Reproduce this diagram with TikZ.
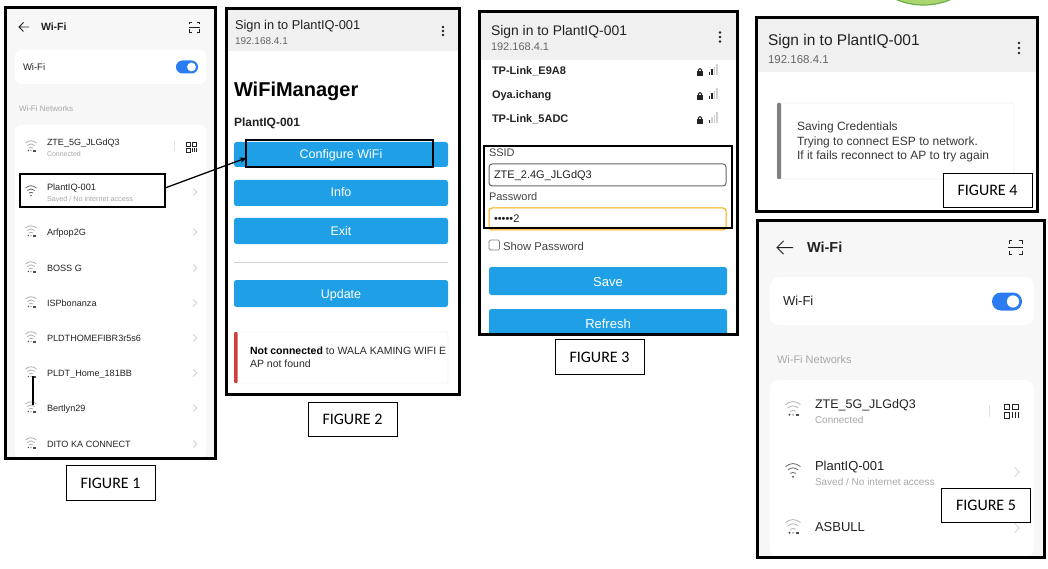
\documentclass[tikz,border=0pt]{standalone}
\usepackage{fontspec}
\setmainfont{Liberation Sans}
\newfontfamily\figfont{Carlito}
\usetikzlibrary{arrows.meta}
\definecolor{btn}{HTML}{1FA0E6}
\definecolor{tog}{HTML}{2A7CF0}
\definecolor{pagebg}{HTML}{F7F7F7}
\definecolor{hdr}{HTML}{F0F0F0}
\definecolor{ink}{HTML}{222222}
\definecolor{sub}{HTML}{666666}
\definecolor{faint}{HTML}{A8A8A8}
\definecolor{icon}{HTML}{666666}
\definecolor{leaf}{HTML}{A9D66F}
\definecolor{leafedge}{HTML}{6DAE4A}
\definecolor{alertred}{HTML}{CE4040}
\newcount\txtno
% \tx[opts]{x}{y-centre}{size}{colour}{text}
\newcommand{\tx}[6][]{%
  \global\advance\txtno by 1
  \pgfmathsetmacro{\tyb}{#3+0.36*#4}%
  \pgfmathsetmacro{\tls}{#4*1.2}%
  \node[lbl,text=#5,#1] (t\the\txtno) at (#2,\tyb) {\fontsize{#4}{\tls}\selectfont #6};}
\newcommand{\panel}[4]{\draw[panelframe] (#1,#2) rectangle (#3,#4);}
\newcommand{\wifi}[4]{% x y scale colour
  \begin{scope}[shift={(#1,#2)},scale=#3]
    \draw[wfline,#4] (-5.5,-4) .. controls (-2,-7) and (2,-7) .. (5.5,-4);
    \draw[wfline,#4] (-3.8,-1.5) .. controls (-1.5,-3.6) and (1.5,-3.6) .. (3.8,-1.5);
    \draw[wfline,#4] (-2.1,1) .. controls (-1,0.1) and (1,0.1) .. (2.1,1);
    \fill[#4] (0,3.5) circle (0.9);
  \end{scope}}
\newcommand{\wifilock}[3]{%
  \wifi{#1}{#2}{#3}{black!30}
  \begin{scope}[shift={(#1,#2)},scale=#3]
    \fill[ink!80] (-2.6,3.5) circle (0.8);
    \fill[ink!80] (2,2.6) rectangle (4.6,4.8);
  \end{scope}}
\newcommand{\chev}[3]{\begin{scope}[shift={(#1,#2)},scale=#3]\draw[chevline] (-2,-4) -- (2,0) -- (-2,4);\end{scope}}
\newcommand{\qr}[3]{\begin{scope}[shift={(#1,#2)},scale=#3]
  \draw[qrline] (0,0) rectangle (4.5,4.5) (6.5,0) rectangle (11,4.5) (0,6.5) rectangle (4.5,11);
  \draw[qrline] (6.5,6.5) -- (6.5,11) (8.7,6.5) -- (8.7,11) (11,6.5) -- (11,11);
\end{scope}}
\newcommand{\scanicon}[3]{\begin{scope}[shift={(#1,#2)},scale=#3]
  \draw[qrline] (0,2.5) -- (0,0) -- (2.5,0) (7.5,0) -- (10,0) -- (10,2.5)
    (0,7.5) -- (0,10) -- (2.5,10) (7.5,10) -- (10,10) -- (10,7.5);
  \draw[qrline,line width=0.6pt] (-0.5,5) -- (10.5,5);
\end{scope}}
\newcommand{\toggle}[4]{% x0 x1 y h
  \fill[tog,rounded corners=#4*0.49pt] (#1,#3-#4/2) rectangle (#2,#3+#4/2);
  \fill[white] (#2-#4/2,#3) circle (#4*0.34);}
\newcommand{\kebab}[3]{\foreach \d in {-1,0,1}{\fill[ink] (#1,#2+\d*#3) circle (1.35);}}
\newcommand{\lockic}[2]{\fill[ink] (#1-3,#2-0.6) rectangle (#1+3,#2+3.6);
  \draw[ink,line width=1pt] (#1-1.7,#2-0.6) -- (#1-1.7,#2-2) .. controls (#1-1.7,#2-3.8) and (#1+1.7,#2-3.8) .. (#1+1.7,#2-2) -- (#1+1.7,#2-0.6);}
\newcommand{\bars}[3]{% x y dark-count
  \foreach \i/\h in {0/3,1/5.5,2/8,3/11}{
    \pgfmathsetmacro{\cc}{\i<#3 ? 1 : 0}
    \ifdim\cc pt>0.5pt \fill[ink] (#1+\i*2.6,#2) rectangle (#1+\i*2.6+1.7,#2-\h);
    \else \fill[black!18] (#1+\i*2.6,#2) rectangle (#1+\i*2.6+1.7,#2-\h);\fi}}
\tikzset{
  lbl/.style={anchor=base west,inner sep=0pt,outer sep=0pt},
  ctr/.style={anchor=base,inner sep=0pt,outer sep=0pt},
  panelframe/.style={draw=black,line width=3pt},
  wfline/.style={line width=0.8pt},
  chevline/.style={draw=black!18,line width=0.8pt},
  qrline/.style={draw=ink,line width=0.9pt},
  callout/.style={draw=black,line width=2pt,inner sep=0pt,outer sep=0pt},
  figbox/.style={draw=black,line width=1pt,fill=white,minimum width=89pt,minimum height=34.5pt,inner sep=0pt,font=\figfont\fontsize{16}{19}\selectfont},
  btnbox/.style={fill=btn,rounded corners=2.5pt},
  card/.style={fill=white,rounded corners=6pt},
  link/.style={draw=black,line width=1.3pt,-{Stealth[length=6pt,width=5.5pt]}}
}
\begin{document}
\begin{tikzpicture}[x=1pt,y=-1pt]
\useasboundingbox (0,0) rectangle (1048,569);
\fill[white] (0,0) rectangle (1048,569);
% green shape cut by the top edge
\begin{scope}
  \clip (0,0) rectangle (1048,569);
  \draw[fill=leaf,draw=leafedge,line width=1.2pt] (923.5,-65) circle (70);
\end{scope}
% ---------- Panel 1
\fill[pagebg] (5,8) rectangle (215,458);
\fill[card] (15,50) rectangle (206,84);
\fill[card] (15,125) rectangle (206,458);
\draw[ink,line width=0.8pt] (29,27) -- (19,27) (23.5,22.5) -- (19,27) -- (23.5,31.5);
\tx{41}{27}{10.5}{ink}{\textbf{Wi-Fi}}
\scanicon{189}{22}{1}
\tx{23}{67}{9.5}{ink}{Wi-Fi}
\toggle{176}{198}{67}{13}
\tx{19}{109}{8}{faint}{Wi-Fi Networks}
\wifilock{31}{147}{1}
\tx{47}{142}{9}{ink}{ZTE\_5G\_JLGdQ3}
\tx{47}{154}{7}{faint}{Connected}
\draw[black!12,line width=0.6pt] (174,141) -- (174,151);
\qr{186}{142}{0.95}
\wifi{31}{192}{1}{icon}
\tx{47}{187}{9.2}{ink}{PlantIQ-001}
\tx{47}{199}{7.2}{faint}{Saved / No internet access}
\chev{195}{192}{0.9}
\foreach \yy/\nm in {232/Arfpop2G,268/BOSS G,303/ISPbonanza,338/PLDTHOMEFIBR3r5s6,373/PLDT\_Home\_181BB,408/Bertlyn29,444/DITO KA CONNECT}{
  \wifilock{31}{\yy}{1}
  \tx{47}{\yy}{9.1}{ink}{\nm}
  \chev{195}{\yy}{0.9}
}
\draw[black,line width=2.6pt] (33,376) -- (33,405);
\panel{5}{8}{215}{458}
\node[callout,minimum width=145pt,minimum height=33pt] (plantrow) at (92.5,191) {};
% ---------- Panel 2
\fill[white] (226,9) rectangle (459,394);
\fill[hdr] (226,9) rectangle (459,51);
\tx{235}{25}{12.8}{ink}{Sign in to PlantIQ-001}
\tx{235}{41}{10}{sub}{192.168.4.1}
\kebab{443}{31}{4}
\tx{234}{89}{20}{black}{\textbf{WiFiManager}}
\tx{234}{122}{12}{ink}{\textbf{PlantIQ-001}}
\fill[btnbox] (234,142) rectangle (448,167);
\node[ctr,text=white,font=\fontsize{12.5}{15}\selectfont] (cfgtxt) at (341,159) {Configure WiFi};
\fill[btnbox] (234,180) rectangle (448,206);
\node[ctr,text=white,font=\fontsize{12.5}{15}\selectfont] (infotxt) at (341,197) {Info};
\fill[btnbox] (234,218) rectangle (448,244);
\node[ctr,text=white,font=\fontsize{12.5}{15}\selectfont] (exittxt) at (341,235) {Exit};
\draw[black!18,line width=1pt] (234,262) -- (448,262);
\fill[btnbox] (234,280) rectangle (448,307);
\node[ctr,text=white,font=\fontsize{12.5}{15}\selectfont] (updtxt) at (341,298) {Update};
\draw[black!5,line width=0.6pt,rounded corners=2pt] (234,332) rectangle (448,383);
\fill[alertred,rounded corners=1pt] (234,332) rectangle (237.5,383);
\tx{250}{351}{10.5}{sub!40!black}{\textbf{\textcolor{black}{Not connected}} to WALA KAMING WIFI E}
\tx{250}{364}{10.5}{sub!40!black}{AP not found}
\panel{226}{9}{459}{394}
\node[callout,minimum width=187pt,minimum height=27pt] (cfgbox) at (339.5,153.5) {};
\draw[link] ([yshift=3pt]plantrow.east) -- ([yshift=-4.5pt]cfgbox.west);
% ---------- Panel 3
\fill[white] (479,12) rectangle (737,334);
\fill[hdr] (479,12) rectangle (737,60);
\tx{491}{30}{13.9}{ink}{Sign in to PlantIQ-001}
\tx{491}{47}{11}{sub}{192.168.4.1}
\kebab{720}{37}{4.5}
\foreach \yy/\nm/\nb in {71/TP-Link\_E9A8/2,95/Oya.ichang/2,119/TP-Link\_5ADC/1}{
  \tx{492}{\yy}{11}{ink}{\textbf{\nm}}
  \lockic{700}{\yy+1}
  \bars{708.5}{\yy+4}{\nb}
}
\tx{489}{153}{11}{ink!85}{SSID}
\draw[black!60,line width=1pt,rounded corners=3pt,fill=white] (489,164) rectangle (726,186);
\tx{494}{175}{11}{ink}{ZTE\_2.4G\_JLGdQ3}
\tx{489}{197}{11}{ink!85}{Password}
\draw[orange!70!yellow,line width=1pt,rounded corners=3pt,fill=white] (489,208) rectangle (726,230);
\tx{494}{219}{11}{ink}{•••••2}
\draw[black!50,line width=0.7pt,rounded corners=1.5pt] (489,240) rectangle (499.5,250);
\tx{503}{246}{11.3}{ink!85}{Show Password}
\fill[btnbox] (489,267) rectangle (727,295);
\node[ctr,text=white,font=\fontsize{13}{15.5}\selectfont] (savetxt) at (608,286) {Save};
\fill[btnbox] (489,309) rectangle (727,336);
\node[ctr,text=white,font=\fontsize{13}{15.5}\selectfont] (reftxt) at (608,328) {Refresh};
\fill[white] (479,335.5) rectangle (737,339);
\panel{479}{12}{737}{334}
\node[callout,minimum width=248pt,minimum height=82pt] (credbox) at (607.5,187) {};
% ---------- Panel 4
\fill[white] (756,18) rectangle (1037,212);
\fill[hdr] (756,18) rectangle (1037,72);
\tx{768}{40}{15.5}{ink}{Sign in to PlantIQ-001}
\tx{768}{59}{11.5}{sub}{192.168.4.1}
\kebab{1019}{48}{5}
\draw[black!6,line width=0.6pt,rounded corners=2pt] (777,103) rectangle (1014,179);
\fill[black!50,rounded corners=1pt] (777,103) rectangle (781,179);
\tx{797}{126}{12}{ink!90}{Saving Credentials}
\tx{797}{141}{12}{ink!90}{Trying to connect ESP to network.}
\tx{797}{155.5}{12}{ink!90}{If it fails reconnect to AP to try again}
\panel{756}{18}{1037}{212}
\draw[black!55,line width=0.8pt] (757,219) -- (1040,219);
% ---------- Panel 5
\fill[pagebg] (757,221) rectangle (1044,557);
\fill[card,rounded corners=9pt] (770,277) rectangle (1034,325);
\fill[card,rounded corners=9pt] (770,380) rectangle (1034,557);
\draw[ink,line width=1pt] (793,247.5) -- (777,247.5) (783.5,241) -- (777,247.5) -- (783.5,254);
\tx{807}{247}{14.5}{ink}{\textbf{Wi-Fi}}
\scanicon{1009}{240.5}{1.35}
\tx{783}{301}{13}{ink}{Wi-Fi}
\toggle{992}{1022}{301.5}{18}
\tx{777}{359.5}{11}{faint}{Wi-Fi Networks}
\wifilock{793}{410}{1.35}
\tx{815}{404}{12.5}{ink}{ZTE\_5G\_JLGdQ3}
\tx{815}{420}{10}{faint}{Connected}
\draw[black!12,line width=0.6pt] (989,405) -- (989,417);
\qr{1004}{404}{1.3}
\wifi{793}{472}{1.35}{icon}
\tx{815}{466}{13}{ink}{PlantIQ-001}
\tx{815}{482}{10}{faint}{Saved / No internet access}
\chev{1017}{472}{1.2}
\wifilock{793}{528}{1.35}
\tx{815}{527}{13}{ink}{ASBULL}
\chev{1017}{528}{1.2}
\panel{757}{221}{1044}{557}
% ---------- Figure labels
\node[figbox] (fig1) at (110.5,483) {FIGURE 1};
\node[figbox] (fig2) at (352.5,419.5) {FIGURE 2};
\node[figbox] (fig3) at (599.5,357) {FIGURE 3};
\node[figbox] (fig4) at (987.5,190.5) {FIGURE 4};
\node[figbox] (fig5) at (986,505.5) {FIGURE 5};
\end{tikzpicture}
\end{document}
